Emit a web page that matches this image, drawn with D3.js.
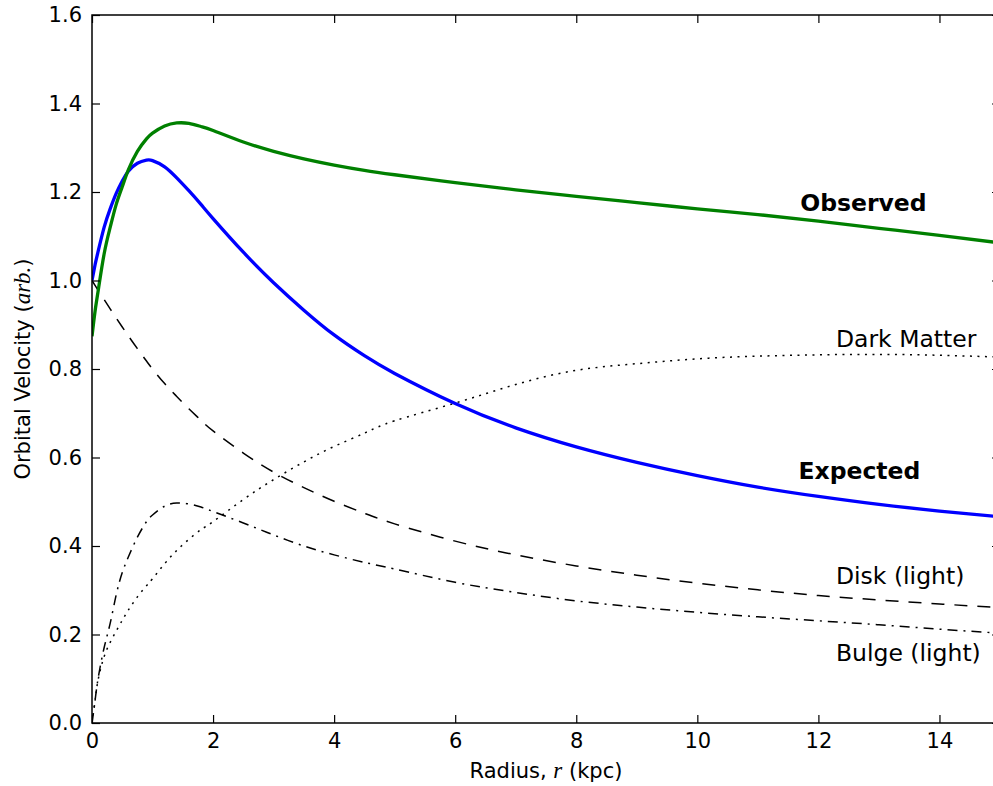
<!DOCTYPE html>
<html>
<head>
<meta charset="utf-8">
<script src="https://cdn.jsdelivr.net/npm/d3@7"></script>
<style>
body { margin: 0; background: #fff; }
text { font-family: "DejaVu Sans", sans-serif; fill: #000; }
</style>
</head>
<body>
<script>
// data
var radius    = [0, 0.05, 0.1, 0.2, 0.3, 0.4, 0.5, 0.6, 0.75, 0.9, 1.0, 1.2, 1.4, 1.6, 1.8, 2.0, 2.5, 3.0, 3.5, 4.0, 4.5, 5.0, 6.0, 7.0, 8.0, 9.0, 10, 11, 12, 13, 14, 15];
var observed  = [0.874, 0.93, 0.975, 1.06, 1.12, 1.172, 1.212, 1.25, 1.292, 1.32, 1.333, 1.349, 1.356, 1.355, 1.348, 1.339, 1.313, 1.292, 1.275, 1.261, 1.249, 1.239, 1.221, 1.205, 1.19, 1.176, 1.162, 1.149, 1.134, 1.118, 1.102, 1.085];
var expected  = [1.0, 1.035, 1.065, 1.12, 1.162, 1.197, 1.225, 1.247, 1.265, 1.272, 1.271, 1.257, 1.232, 1.203, 1.172, 1.14, 1.064, 0.995, 0.933, 0.877, 0.83, 0.79, 0.722, 0.667, 0.624, 0.589, 0.559, 0.533, 0.512, 0.494, 0.479, 0.466];
var disk      = [1.0, 0.989, 0.978, 0.957, 0.936, 0.915, 0.895, 0.875, 0.846, 0.818, 0.80, 0.767, 0.738, 0.71, 0.684, 0.66, 0.61, 0.567, 0.532, 0.501, 0.474, 0.45, 0.411, 0.38, 0.355, 0.334, 0.316, 0.301, 0.288, 0.278, 0.269, 0.261];
var bulge     = [0, 0.05, 0.1, 0.17, 0.225, 0.29, 0.34, 0.375, 0.42, 0.455, 0.47, 0.49, 0.497, 0.495, 0.488, 0.478, 0.452, 0.425, 0.4, 0.38, 0.363, 0.348, 0.318, 0.295, 0.276, 0.262, 0.25, 0.24, 0.231, 0.222, 0.212, 0.203];
var darkMatter = [0, 0.05, 0.097, 0.15, 0.182, 0.208, 0.232, 0.255, 0.285, 0.31, 0.326, 0.36, 0.39, 0.415, 0.437, 0.455, 0.505, 0.55, 0.59, 0.625, 0.655, 0.683, 0.723, 0.765, 0.797, 0.812, 0.823, 0.829, 0.832, 0.833, 0.831, 0.827];
var xTicks = [0, 2, 4, 6, 8, 10, 12, 14];
var yTicks = [0.0, 0.2, 0.4, 0.6, 0.8, 1.0, 1.2, 1.4, 1.6];

var outerWidth = 993;
var outerHeight = 786;
var margin = {top: 15, left: 92},
    width = 908,
    height = 708;

var x = d3.scaleLinear().domain([0, 15]).range([0, width]);
var y = d3.scaleLinear().domain([0, 1.6]).range([height, 0]);

var svg = d3.select('body').append('svg')
    .attr("width", outerWidth)
    .attr("height", outerHeight)
  .append("g")
    .attr("transform", `translate(${margin.left},${margin.top})`);

svg.append("clipPath").attr("id", "plot")
  .append("rect").attr("width", width).attr("height", height);

// curves
var line = function(vals) {
  return d3.line()
    .x(function(d, i) { return x(radius[i]); })
    .y(function(d) { return y(d); })
    .curve(d3.curveNatural)(vals);
};

var series = [
  {vals: disk, color: "#000", w: 1.5, dash: "13,10"},
  {vals: bulge, color: "#000", w: 1.5, dash: "10,6,2,6"},
  {vals: darkMatter, color: "#000", w: 1.5, dash: "2,5.5"},
  {vals: expected, color: "#0000ff", w: 3.3, dash: null},
  {vals: observed, color: "#008000", w: 3.3, dash: null}
];

svg.append("g").attr("clip-path", "url(#plot)")
  .selectAll("path")
  .data(series)
  .enter().append("path")
    .attr("d", function(d) { return line(d.vals); })
    .attr("fill", "none")
    .attr("stroke", function(d) { return d.color; })
    .attr("stroke-width", function(d) { return d.w; })
    .attr("stroke-dasharray", function(d) { return d.dash; });

// axes, ticks pointing inward
function styleAxis(g) {
  g.select(".domain").remove();
  g.selectAll(".tick line").attr("stroke", "#000").attr("stroke-width", 1.2);
  g.selectAll(".tick text").attr("font-size", 21).attr("font-family", "DejaVu Sans").attr("fill", "#000");
}

svg.append("g")
    .attr("transform", "translate(0," + height + ")")
    .call(d3.axisBottom(x).tickValues(xTicks).tickSizeInner(-8).tickSizeOuter(0).tickPadding(10).tickFormat(d3.format("d")))
    .call(styleAxis);

svg.append("g")
    .call(d3.axisTop(x).tickValues(xTicks).tickSizeInner(-8).tickSizeOuter(0).tickFormat(""))
    .call(styleAxis);

svg.append("g")
    .call(d3.axisLeft(y).tickValues(yTicks).tickSizeInner(-8).tickSizeOuter(0).tickPadding(10).tickFormat(d3.format(".1f")))
    .call(styleAxis);

svg.append("g")
    .attr("transform", "translate(" + width + ",0)")
    .call(d3.axisRight(y).tickValues(yTicks).tickSizeInner(-8).tickSizeOuter(0).tickFormat(""))
    .call(styleAxis);

// frame
svg.append("rect")
    .attr("width", width)
    .attr("height", height)
    .attr("fill", "none")
    .attr("stroke", "#000")
    .attr("stroke-width", 1.5);

// axis labels
var xl = svg.append("text")
    .attr("x", width / 2)
    .attr("y", height + 55)
    .attr("text-anchor", "middle")
    .attr("font-size", 21);
xl.append("tspan").text("Radius, ");
xl.append("tspan").attr("font-family", "Liberation Serif").attr("font-style", "italic").attr("font-size", 23).text("r");
xl.append("tspan").text(" (kpc)");

var yl = svg.append("text")
    .attr("transform", "translate(-62," + height / 2 + ") rotate(-90)")
    .attr("text-anchor", "middle")
    .attr("font-size", 21);
yl.append("tspan").text("Orbital Velocity (");
yl.append("tspan").attr("font-family", "Liberation Serif").attr("font-style", "italic").attr("font-size", 23).text("arb.");
yl.append("tspan").text(")");

// curve annotations
var notes = [
  {t: "Observed", x: 11.7, y: 1.158, bold: true},
  {t: "Expected", x: 11.67, y: 0.551, bold: true},
  {t: "Dark Matter", x: 12.29, y: 0.850, bold: false},
  {t: "Disk (light)", x: 12.29, y: 0.315, bold: false},
  {t: "Bulge (light)", x: 12.29, y: 0.140, bold: false}
];

svg.selectAll(".note")
  .data(notes)
  .enter().append("text")
    .attr("class", "note")
    .attr("x", function(d) { return x(d.x); })
    .attr("y", function(d) { return y(d.y); })
    .attr("font-size", 23.5)
    .attr("font-weight", function(d) { return d.bold ? "bold" : "normal"; })
    .text(function(d) { return d.t; });
</script>
</body>
</html>
